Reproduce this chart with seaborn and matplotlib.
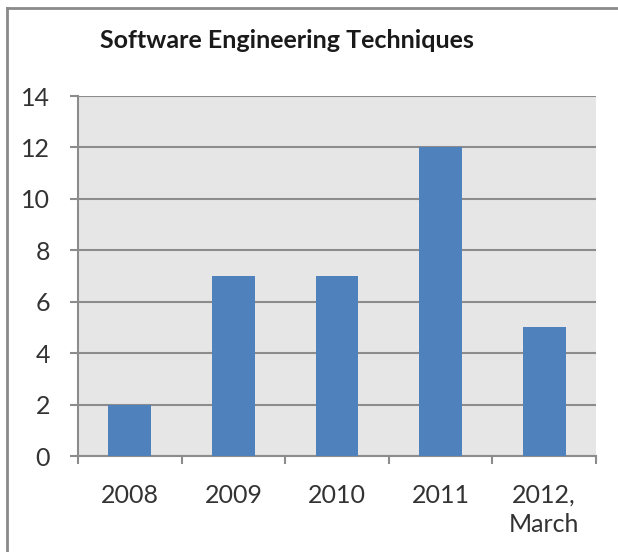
import matplotlib
matplotlib.use("Agg")
import matplotlib.pyplot as plt
import seaborn as sns
import pandas as pd
import numpy as np

categories = ["2008", "2009", "2010", "2011", "2012,\nMarch"]
values = [2, 7, 7, 12, 5]
yticks = [0, 2, 4, 6, 8, 10, 12, 14]
title = "Software Engineering Techniques"

sns.set_style("white")
plt.rcParams['font.family'] = ['Lato', 'DejaVu Sans']

W, H = 618, 552
fig = plt.figure(figsize=(W / 100, H / 100), dpi=100)
fig.patch.set_edgecolor("none")
fig.patch.set_linewidth(0)

# chart-area frame: only top and left edges fall inside the picture
bg = fig.add_axes([7 / W, -0.2, 1.2, 1.2 - 8 / H], zorder=-5)
bg.set_xticks([])
bg.set_yticks([])
bg.set_facecolor("white")
for s in ["right", "bottom"]:
    bg.spines[s].set_visible(False)
for s in ["left", "top"]:
    bg.spines[s].set_color("#8A8A8A")
    bg.spines[s].set_linewidth(2)

ax = fig.add_axes([78 / W, 1 - 456 / H, (596 - 78) / W, (456 - 96) / H])
ax.set_facecolor("#E6E6E6")

df = pd.DataFrame({"cat": categories, "val": values})
sns.barplot(data=df, x="cat", y="val", color="#4F81BD", saturation=1,
            width=0.415, ax=ax, zorder=3, linewidth=0, edgecolor="none")

ax.set_ylim(0, 14)
ax.set_xlim(-0.5, len(categories) - 0.5)
ax.set_yticks(yticks)
ax.set_yticklabels([str(t) for t in yticks])
ax.set_xlabel("")
ax.set_ylabel("")

ax.yaxis.grid(True, color="#8C8C8C", linewidth=1.5, zorder=1)
ax.set_axisbelow(True)

for s in ["top", "right"]:
    ax.spines[s].set_visible(False)
for s in ["left", "bottom"]:
    ax.spines[s].set_color("#8C8C8C")
    ax.spines[s].set_linewidth(1.5)

ax.tick_params(axis="y", length=6, width=1.5, color="#8C8C8C", pad=14,
               labelsize=18, labelcolor="#333333", left=True)
ax.tick_params(axis="x", which="major", length=0, pad=20, labelsize=18,
               labelcolor="#333333")
ax.set_xticks(np.arange(-0.5, len(categories)), minor=True)
ax.tick_params(axis="x", which="minor", length=6, width=1.5, color="#8C8C8C",
               bottom=True)
for lbl in ax.get_xticklabels():
    lbl.set_ha("center")
    lbl.set_linespacing(1.35)

fig.text(100 / W, 1 - 40 / H, title, fontsize=18, fontweight="bold",
         color="#1a1a1a", ha="left", va="center")

fig.savefig("out.png", dpi=100)
